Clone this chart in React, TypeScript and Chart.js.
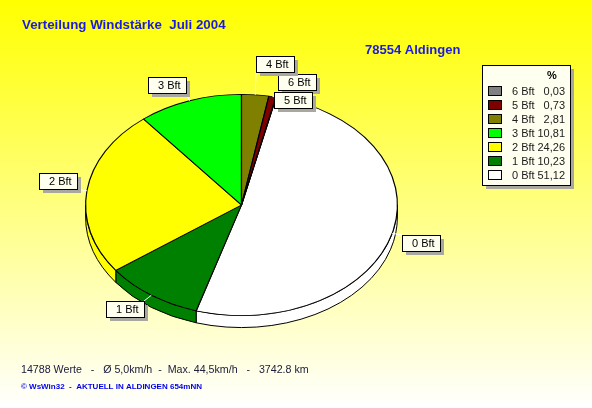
import React, { useEffect, useRef } from "react";
import { Chart, registerables } from "chart.js";

Chart.register(...registerables);

const categories = ["0 Bft", "1 Bft", "2 Bft", "3 Bft", "4 Bft", "5 Bft", "6 Bft"];
const percentValues = [51.12, 10.23, 24.26, 10.81, 2.81, 0.73, 0.03];
const percentLabels = ["51,12", "10,23", "24,26", "10,81", "2,81", "0,73", "0,03"];
const sliceColors = ["#ffffff", "#008000", "#ffff00", "#00ff00", "#808000", "#800000", "#808080"];
const titleText = "Verteilung Windstärke  Juli 2004";
const stationText = "78554 Aldingen";
const legendHeader = "%";
const statsText = "14788 Werte   -   Ø 5,0km/h  -  Max. 44,5km/h   -   3742.8 km";
const creditText = "© WsWin32  -  AKTUELL IN ALDINGEN 654mNN";

const W = 592;
const H = 408;
const CX = 241.5;
const CY = 205;
const RX = 156.5;
const RY = 111;
const DEPTH = 12;
const SY = RY / RX;
const FONT = '"Liberation Sans", Arial, sans-serif';
const PAPER = "#fffff0";
const SHADOW = "#a8a8a0";

// callout boxes: left, top for each category in order
const calloutBoxes: [number, number][] = [
  [402, 235],
  [106, 301],
  [39, 173],
  [148, 77],
  [256, 56],
  [274, 92],
  [278, 74],
];
const BOX_W = 38;
const BOX_H = 16;

function drawBox(ctx: CanvasRenderingContext2D, x: number, y: number, w: number, h: number) {
  ctx.fillStyle = SHADOW;
  ctx.fillRect(x + 4, y + 4, w, h);
  ctx.fillStyle = PAPER;
  ctx.fillRect(x, y, w, h);
  ctx.strokeStyle = "#000000";
  ctx.lineWidth = 1;
  ctx.strokeRect(x + 0.5, y + 0.5, w, h);
}

const pie3d = {
  id: "pie3d",
  beforeDraw(chart: any) {
    const { ctx } = chart;
    const g = ctx.createLinearGradient(0, 0, 0, H);
    g.addColorStop(0, "#ffff00");
    g.addColorStop(1, "#ffffff");
    ctx.fillStyle = g;
    ctx.fillRect(0, 0, W, H);
  },
  beforeDatasetsDraw(chart: any) {
    const { ctx } = chart;
    const arcs = chart.getDatasetMeta(0).data;
    ctx.save();
    ctx.lineWidth = 1;
    ctx.strokeStyle = "#000000";
    arcs.forEach((el: any, i: number) => {
      const { startAngle, endAngle, x, outerRadius } = el;
      const ry = outerRadius * SY;
      for (const k of [-2, 0, 2]) {
        const a = Math.max(startAngle, k * Math.PI);
        const b = Math.min(endAngle, (k + 1) * Math.PI);
        if (b <= a) continue;
        ctx.beginPath();
        ctx.ellipse(x, CY, outerRadius, ry, 0, a, b);
        ctx.ellipse(x, CY + DEPTH, outerRadius, ry, 0, b, a, true);
        ctx.closePath();
        ctx.fillStyle = sliceColors[i];
        ctx.fill();
        ctx.stroke();
      }
    });
    ctx.restore();
    ctx.save();
    ctx.translate(0, CY);
    ctx.scale(1, SY);
    ctx.translate(0, -chart.getDatasetMeta(0).data[0].y);
  },
  afterDatasetsDraw(chart: any) {
    chart.ctx.restore();
  },
  afterDraw(chart: any) {
    const { ctx } = chart;
    const arcs = chart.getDatasetMeta(0).data;
    ctx.save();
    ctx.textBaseline = "middle";

    // leader lines and callouts
    arcs.forEach((el: any, i: number) => {
      const mid = (el.startAngle + el.endAngle) / 2;
      const px = el.x + Math.cos(mid) * el.outerRadius;
      const py = CY + Math.sin(mid) * el.outerRadius * SY;
      const [bx, by] = calloutBoxes[i];
      const tx = Math.max(bx, Math.min(bx + BOX_W, px));
      const ty = Math.max(by, Math.min(by + BOX_H, py));
      ctx.strokeStyle = "#ffffff";
      ctx.lineWidth = 1;
      ctx.beginPath();
      ctx.moveTo(px, py);
      ctx.lineTo(tx, ty);
      ctx.stroke();
    });
    // painted far to near, as in the picture
    [6, 4, 3, 2, 1, 0, 5].forEach((i) => {
      const [bx, by] = calloutBoxes[i];
      drawBox(ctx, bx, by, BOX_W, BOX_H);
      ctx.fillStyle = "#000000";
      ctx.font = `11px ${FONT}`;
      ctx.textAlign = "left";
      ctx.fillText(categories[i], bx + 10, by + 8.5);
    });

    // headings
    ctx.textAlign = "left";
    ctx.fillStyle = "#1a1ae0";
    ctx.font = `bold 13.33px ${FONT}`;
    ctx.fillText(titleText, 22, 25);
    ctx.font = `bold 13px ${FONT}`;
    ctx.fillText(stationText, 365, 50);

    // legend panel
    const lx = 482;
    const ly = 65;
    drawBox(ctx, lx, ly, 88, 120);
    ctx.fillStyle = "#000000";
    ctx.font = `bold 11px ${FONT}`;
    ctx.textAlign = "center";
    ctx.fillText(legendHeader, 552, 75.5);
    ctx.font = `11px ${FONT}`;
    for (let i = categories.length - 1, row = 0; i >= 0; i--, row++) {
      const cy = 91 + row * 14;
      ctx.fillStyle = "#000000";
      ctx.fillRect(488, cy - 5, 14, 10);
      ctx.fillStyle = sliceColors[i];
      ctx.fillRect(489, cy - 4, 12, 8);
      ctx.fillStyle = "#202020";
      ctx.textAlign = "left";
      ctx.fillText(categories[i], 512, cy + 0.5);
      ctx.textAlign = "right";
      ctx.fillText(percentLabels[i], 565, cy + 0.5);
    }

    // footer
    ctx.textAlign = "left";
    ctx.fillStyle = "#202040";
    ctx.font = `10.67px ${FONT}`;
    ctx.fillText(statsText, 21, 370);
    ctx.fillStyle = "#0000f0";
    ctx.font = `bold 8px ${FONT}`;
    ctx.fillText(creditText, 21, 387);
    ctx.restore();
  },
};

export default function App() {
  const ref = useRef<HTMLCanvasElement>(null);
  useEffect(() => {
    if (!ref.current) return;
    const total = percentValues.reduce((a, b) => a + b, 0);
    const trailing = percentValues.slice(4).reduce((a, b) => a + b, 0);
    const chart = new Chart(ref.current, {
      type: "pie",
      data: {
        labels: categories,
        datasets: [
          {
            data: percentValues,
            backgroundColor: sliceColors,
            borderColor: "#000000",
            borderWidth: 1.2,
          },
        ],
      },
      options: {
        responsive: false,
        animation: false,
        rotation: (trailing / total) * 360,
        layout: {
          padding: { left: CX - RX, right: W - CX - RX, top: (H - 2 * RX) / 2, bottom: (H - 2 * RX) / 2 },
        },
        plugins: { legend: { display: false }, title: { display: false }, tooltip: { enabled: false } },
      },
      plugins: [pie3d],
    } as any);
    return () => chart.destroy();
  }, []);
  return (
    <canvas
      ref={ref}
      width={W}
      height={H}
      style={{ position: "absolute", left: 0, top: 0, width: W, height: H, display: "block" }}
    />
  );
}
